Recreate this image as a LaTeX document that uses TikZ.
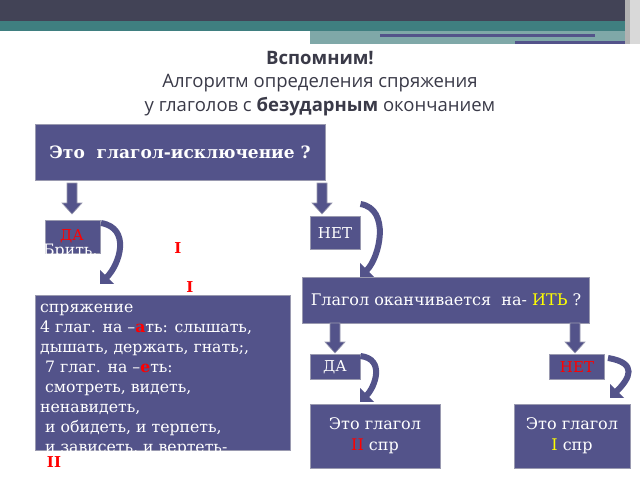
\documentclass[tikz,border=0pt]{standalone}
\usepackage{fontspec}
\setmainfont{DejaVu Serif}
\newfontfamily\titlefont{Open Sans}
\usetikzlibrary{arrows.meta}
\definecolor{bx}{HTML}{53538A}
\definecolor{bd}{HTML}{9A9AB0}
\definecolor{dark}{HTML}{424356}
\definecolor{teal}{HTML}{3F7F80}
\definecolor{tl}{HTML}{7FA8A8}
\definecolor{ttl}{HTML}{3A3A48}
\definecolor{yl}{HTML}{FFFF00}
\begin{document}
\begin{tikzpicture}[x=1pt,y=-1pt,
  boxs/.style={draw=bd,line width=1pt,fill=bx,text=white,inner sep=3pt,align=center},
  darr/.style={fill=bx,draw=bd,line width=0.6pt},
  carr/.style={draw=bx,line width=6pt,-{Triangle[length=10pt,width=19pt]}},
  txt/.style={text=white,anchor=base west,font=\fontsize{15.7}{18}\selectfont,inner sep=0}]
\useasboundingbox (0,0) rectangle (640,480);
\fill[white] (0,0) rectangle (640,480);
% header
\fill[dark] (0,0) rectangle (640,21);
\fill[teal] (0,21) rectangle (640,31);
\fill[tl] (310,31) rectangle (630,44);
\fill[bx] (380,34) rectangle (595,37);
\fill[bx] (515,41) rectangle (630,44);
\fill[gray!60] (625,0) rectangle (640,44);
\fill[gray!30] (630,0) rectangle (640,44);
% title
\node[font=\titlefont\bfseries\fontsize{18.5}{20}\selectfont,text=ttl] (t1) at (320,58) {Вспомним!};
\node[font=\titlefont\fontsize{18.5}{20}\selectfont,text=ttl] (t2) at (320,83) {Алгоритм определения спряжения};
\node[font=\titlefont\fontsize{18.5}{20}\selectfont,text=ttl] (t3) at (320,107) {у глаголов с \textbf{безударным} окончанием};
% boxes
\node[boxs,minimum width=290,minimum height=56,font=\bfseries\fontsize{17}{19}\selectfont] (q1) at (180,152) {Это\ \ глагол-исключение ?};
\node[boxs,minimum width=55,minimum height=33,anchor=north west] (da1) at (45,220) {};
\node[text=red,font=\fontsize{15}{17}\selectfont] (da1t) at (72,236) {ДА};
\node[boxs,minimum width=50,minimum height=33,font=\fontsize{15}{17}\selectfont] (net1) at (335,233) {НЕТ};
\node[boxs,minimum width=255,minimum height=155,anchor=north west] (big) at (35,295) {};
\node[boxs,minimum width=287,minimum height=46,font=\fontsize{16}{18}\selectfont] (q2) at (446,300) {Глагол оканчивается\ \ на- \textcolor{yl}{ИТЬ} ?};
\node[boxs,minimum width=50,minimum height=25,font=\fontsize{15}{17}\selectfont] (da2) at (335,367) {ДА};
\node[boxs,minimum width=55,minimum height=25,text=red,font=\fontsize{15}{17}\selectfont] (net2) at (577,367) {НЕТ};
\node[boxs,minimum width=130,minimum height=64,font=\fontsize{16}{21}\selectfont] (r1) at (375,436) {Это глагол\\\textcolor{red}{II} спр};
\node[boxs,minimum width=116,minimum height=64,font=\fontsize{16}{21}\selectfont] (r2) at (572,436) {Это глагол\\\textcolor{yl}{I} спр};
% texts
\node[txt] (br) at (43,255) {Брить,};
\node[text=red,font=\bfseries\fontsize{15}{17}\selectfont] (i1) at (178,248) {I};
\node[text=red,font=\bfseries\fontsize{15}{17}\selectfont] (i2) at (190,287) {I};
\node[txt] (l1) at (40,312) {спряжение};
\node[txt] (l2) at (40,332) {4 глаг. на –\textcolor{red}{\bfseries а}ть: слышать,};
\node[txt] (l3) at (40,352) {дышать, держать, гнать;,};
\node[txt] (l4) at (40,372) {\ 7 глаг. на –\textcolor{red}{\bfseries е}ть:};
\node[txt] (l5) at (40,392) {\ смотреть, видеть,};
\node[txt] (l6) at (40,412) {ненавидеть,};
\node[txt] (l7) at (40,432) {\ и обидеть, и терпеть,};
\node[txt] (l8) at (40,452) {\ и зависеть, и вертеть-};
\node[text=red,font=\bfseries\fontsize{15}{17}\selectfont] (i3) at (54,462) {II};
% block down arrows
\foreach \xx/\ya/\yb in {72/183/214, 322/183/214, 335/323/353, 575/323/353}{
  \draw[darr] (\xx-5,\ya) -- (\xx+5,\ya) -- (\xx+5,\yb-11) -- (\xx+10,\yb-11) -- (\xx,\yb) -- (\xx-10,\yb-11) -- (\xx-5,\yb-11) -- cycle;}
% curved arrows
\coordinate (c1) at (100,284);
\coordinate (c2) at (360,277);
\coordinate (c3) at (360,402);
\coordinate (c4) at (610,398);
\draw[carr] (da1.north east) ++(0,3) .. controls +(30,5) and +(20,-20) .. (c1);
\draw[carr] (net1.north east) ++(0,-12) .. controls +(30,5) and +(20,-20) .. (c2);
\draw[carr] (da2.north east) ++(0,2) .. controls +(25,3) and +(15,-15) .. (c3);
\draw[carr] (net2.north east) ++(3,4) .. controls +(30,5) and +(20,-20) .. (c4);
\end{tikzpicture}
\end{document}
